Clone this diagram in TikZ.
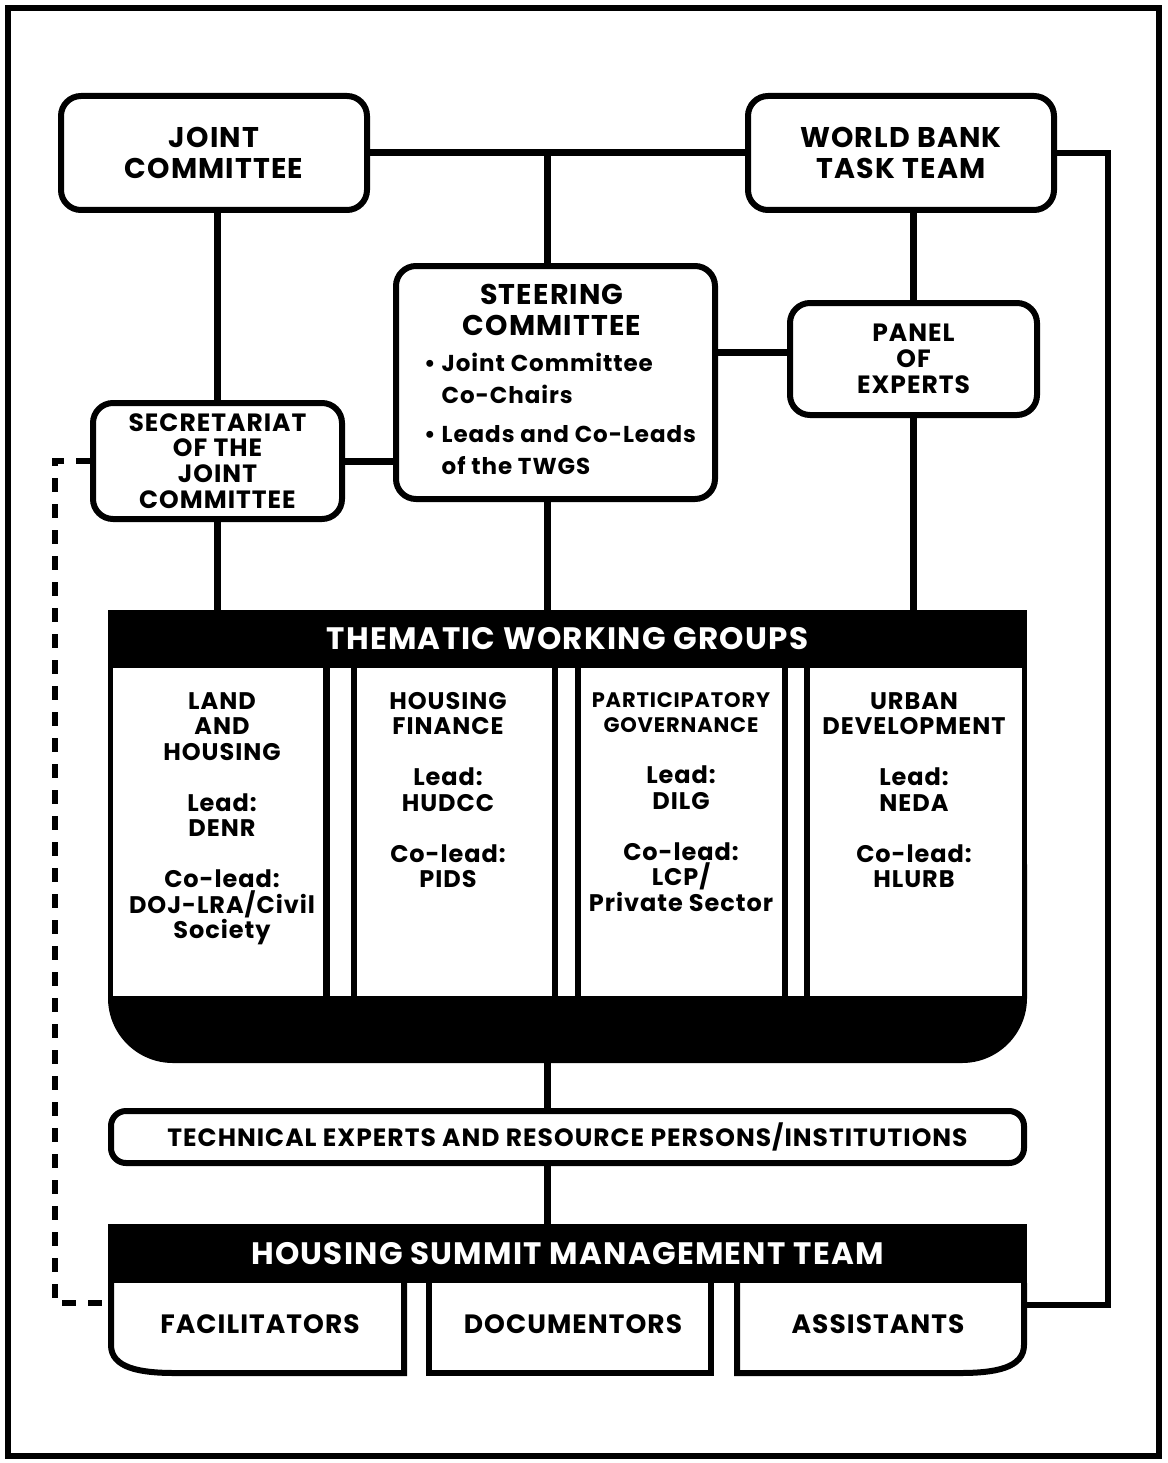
\documentclass[tikz,border=0pt]{standalone}
\usepackage{fontspec}
\setmainfont{Poppins}[LetterSpace=4]
\usetikzlibrary{calc}

\begin{document}
\begin{tikzpicture}[x=1pt,y=-1pt,
    box/.style={draw, line width=6pt, rounded corners=20pt, fill=white,
        align=center, inner sep=0pt},
    link/.style={line width=7pt},
    band/.style={fill=black, text=white, inner sep=0pt, minimum width=919pt},
    bigtxt/.style={font=\bfseries\fontsize{28.5}{31}\selectfont},
    midtxt/.style={font=\bfseries\fontsize{25}{25.7}\selectfont},
    coltxt/.style={anchor=north, align=center, inner sep=0pt,
        font=\bfseries\fontsize{24}{25.5}\selectfont}]
    % Define sizes
    \def\lw{6pt}
    \def\gap{25.5pt}

    % frame and bounding box
    \useasboundingbox (0,0) rectangle (1167,1463);
    \draw[line width=\lw] (8,8) rectangle (1159,1456);

    % 1. Top boxes
    \node[box, bigtxt, minimum width=306pt, minimum height=114pt] (jc) at (214,153) {JOINT\\COMMITTEE};
    \node[box, bigtxt, minimum width=306pt, minimum height=114pt] (wb) at (901,153) {WORLD BANK\\TASK TEAM};
    \node[box, minimum width=319pt, minimum height=233pt] (steer) at (555.5,382.5) {};
    \node[bigtxt, anchor=north, align=center, inner sep=0pt] (steer-title) at (552,284) {STEERING\\COMMITTEE};
    \node[anchor=north west, inner sep=0pt, font=\bfseries\fontsize{23}{32}\selectfont] (steer-list) at (424,349)
        {\begin{tabular}{@{}l@{\hspace{6pt}}l@{}}
            • & Joint Committee\\
              & Co-Chairs\\[7pt]
            • & Leads and Co-Leads\\
              & of the TWGS
        \end{tabular}};
    \node[box, midtxt, minimum width=247pt, minimum height=112pt] (panel) at (913.5,359) {PANEL\\OF\\EXPERTS};
    \node[box, midtxt, minimum width=249pt, minimum height=116pt] (sec) at (217.5,461) {SECRETARIAT\\OF THE\\JOINT\\COMMITTEE};

    % 2. Thematic working groups
    \fill (108,610) rectangle (1027,1000);
    \fill[rounded corners=65pt] (108,800) rectangle (1027,1063);
    \node[band, minimum height=58pt, font=\bfseries\fontsize{31}{33}\selectfont] (twg) at (567.5,639) {THEMATIC WORKING GROUPS};
    \foreach \a/\b in {113/323, 330/351, 357/552, 558/575, 581/782, 788/804, 810/1022}
        \fill[white] (\a,668) rectangle (\b,996);
    \node[coltxt] (land) at (222,692) {LAND\\AND\\HOUSING\\[\gap]Lead:\\DENR\\[\gap]Co-lead:\\DOJ-LRA/Civil\\Society};
    \node[coltxt] (finance) at (448,692) {HOUSING\\FINANCE\\[\gap]Lead:\\HUDCC\\[\gap]Co-lead:\\PIDS};
    \node[coltxt] (govern) at (681,692) {{\fontsize{21}{25.5}\selectfont PARTICIPATORY}\\{\fontsize{21}{25.5}\selectfont GOVERNANCE}\\[\gap]Lead:\\DILG\\[\gap]Co-lead:\\LCP/\\Private Sector};
    \node[coltxt] (urban) at (914,692) {URBAN\\DEVELOPMENT\\[\gap]Lead:\\NEDA\\[\gap]Co-lead:\\HLURB};
    \coordinate (twgbase) at (547,1062);

    % 3. Technical experts
    \node[box, rounded corners=15pt, minimum width=913pt, minimum height=52pt,
        font=\bfseries\fontsize{25}{27}\selectfont] (tech) at (567.5,1137) {TECHNICAL EXPERTS AND RESOURCE PERSONS/INSTITUTIONS};

    % 4. Housing summit management team
    \node[band, minimum height=59pt, font=\bfseries\fontsize{31}{33}\selectfont] (hsmt) at (567.5,1253.5) {HOUSING SUMMIT MANAGEMENT TEAM};
    \draw[line width=\lw] (111,1283) -- (111,1345) .. controls (111,1368) and (140,1373) .. (175,1373) -- (404,1373) -- (404,1283);
    \draw[line width=\lw] (429,1283) -- (429,1373) -- (711,1373) -- (711,1283);
    \draw[line width=\lw] (737,1283) -- (737,1373) -- (960,1373) .. controls (995,1373) and (1024,1368) .. (1024,1345) -- (1024,1283);
    \node[font=\bfseries\fontsize{26.5}{30}\selectfont] (fac) at (260,1324) {FACILITATORS};
    \node[font=\bfseries\fontsize{26.5}{30}\selectfont] (doc) at (573,1324) {DOCUMENTORS};
    \node[font=\bfseries\fontsize{26.5}{30}\selectfont] (ass) at (878,1324) {ASSISTANTS};
    \coordinate (fac-w) at (111,1303);
    \coordinate (ass-e) at (1024,1305);

    % 5. Connectors
    \coordinate (sc-top) at (547,153);
    \coordinate (pe-y) at (750,352);
    \coordinate (dline) at (55,1303);
    \coordinate (rline) at (1108,1305);
    \draw[link] (jc) -- (wb);
    \draw[link] (sc-top) -- (sc-top |- steer.north);
    \draw[link] (panel.west |- pe-y) -- (steer.east |- pe-y);
    \draw[link] (sec.east) -- (sec.east -| steer.west);
    \draw[link] (sec.north |- jc.south) -- (sec.north);
    \draw[link] (sec.south) -- (sec.south |- twg.north);
    \draw[link] (steer.south -| sc-top) -- (twg.north -| sc-top);
    \draw[link] (panel.north |- wb.south) -- (panel.north);
    \draw[link] (panel.south) -- (panel.south |- twg.north);
    \draw[link] (twgbase) -- (twgbase |- tech.north);
    \draw[link] (tech.south -| twgbase) -- (hsmt.north -| twgbase);
    \draw[line width=\lw] (wb.east) -| (rline) -- (ass-e);
    \draw[line width=\lw, dash pattern=on 14pt off 12pt] (sec.west) -| (dline) -- (fac-w);
\end{tikzpicture}
\end{document}
